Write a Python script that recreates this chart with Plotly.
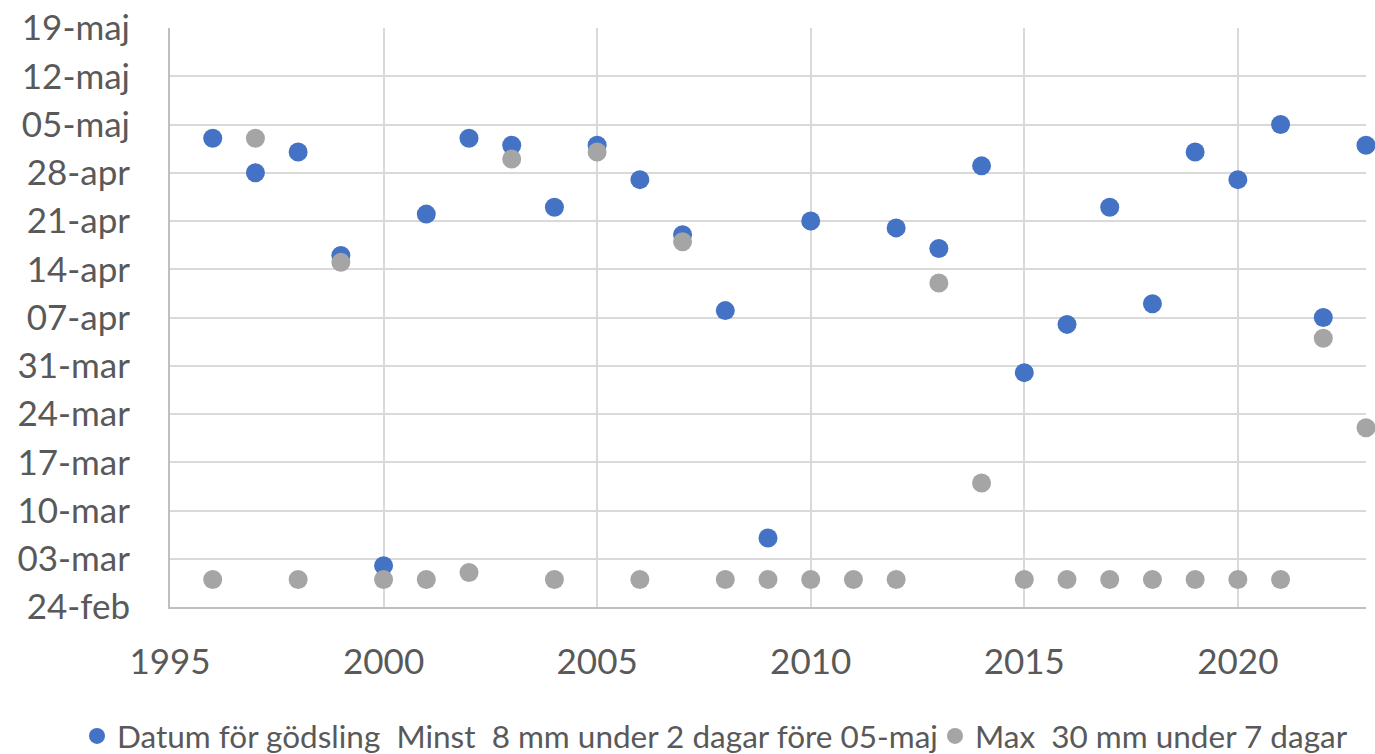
import plotly.graph_objects as go

# Years on the x axis
years = list(range(1996, 2024))

# Fertilising date: at least 8 mm during 2 days before 05-May (MM-DD)
datum_godsling = [
    "05-03", "04-28", "05-01", "04-16", "03-02", "04-22", "05-03", "05-02",
    "04-23", "05-02", "04-27", "04-19", "04-08", "03-06", "04-21", None,
    "04-20", "04-17", "04-29", "03-30", "04-06", "04-23", "04-09", "05-01",
    "04-27", "05-05", "04-07", "05-02",
]

# Max 30 mm during 7 days (MM-DD)
max_30mm = [
    "02-28", "05-03", "02-28", "04-15", "02-28", "02-28", "03-01", "04-30",
    "02-28", "05-01", "02-28", "04-18", "02-28", "02-28", "02-28", "02-28",
    "02-28", "04-12", "03-14", "02-28", "02-28", "02-28", "02-28", "02-28",
    "02-28", "02-28", "04-04", "03-22",
]

# Weekly y-axis ticks
tick_dates = ["02-24", "03-03", "03-10", "03-17", "03-24", "03-31", "04-07",
              "04-14", "04-21", "04-28", "05-05", "05-12", "05-19"]
tick_labels = ["24-feb", "03-mar", "10-mar", "17-mar", "24-mar", "31-mar",
               "07-apr", "14-apr", "21-apr", "28-apr", "05-maj", "12-maj",
               "19-maj"]

BASE_YEAR = "2001"


def as_date(md):
    return None if md is None else f"{BASE_YEAR}-{md}"


name_blue = "Datum för gödsling\u00a0 Minst\u00a0 8 mm under 2 dagar före 05-maj"
name_gray = "Max\u00a0 30 mm under 7 dagar"

fig = go.Figure()
fig.add_trace(go.Scatter(
    x=years, y=[as_date(v) for v in datum_godsling], mode="markers",
    name=name_blue, cliponaxis=False, legend="legend",
    marker=dict(color="#4472C4", size=19, line=dict(width=0)),
))
fig.add_trace(go.Scatter(
    x=years, y=[as_date(v) for v in max_30mm], mode="markers",
    name=name_gray, cliponaxis=False, legend="legend2",
    marker=dict(color="#A5A5A5", size=19, line=dict(width=0)),
))

font_family = "Lato, Open Sans, sans-serif"
tick_color = "#595959"

legend_style = dict(
    orientation="h", xref="container", yref="container",
    xanchor="left", y=0.024, yanchor="middle",
    font=dict(size=31.5, color=tick_color), itemsizing="trace",
    itemwidth=30, bgcolor="rgba(0,0,0,0)",
)

fig.update_layout(
    width=1375, height=754,
    margin=dict(l=170, r=9, t=28, b=147, autoexpand=False),
    paper_bgcolor="white", plot_bgcolor="white",
    font=dict(family=font_family, color=tick_color),
    showlegend=True,
    legend=dict(legend_style, x=77 / 1375),
    legend2=dict(legend_style, x=935 / 1375),
)

fig.update_xaxes(
    range=[1995, 2023], tick0=1995, dtick=5,
    showgrid=True, gridcolor="#D9D9D9", gridwidth=2,
    showline=True, linecolor="#BFBFBF", linewidth=2,
    zeroline=False, ticks="", ticklabelstandoff=23,
    tickfont=dict(size=35, color=tick_color),
)
fig.update_yaxes(
    type="date",
    range=[as_date(tick_dates[0]), as_date(tick_dates[-1])],
    tickvals=[as_date(d) for d in tick_dates], ticktext=tick_labels,
    showgrid=True, gridcolor="#D9D9D9", gridwidth=2,
    showline=True, linecolor="#BFBFBF", linewidth=2,
    zeroline=False, ticks="", ticklabelstandoff=31,
    tickfont=dict(size=35, color=tick_color),
)

fig.write_html("out.html")
